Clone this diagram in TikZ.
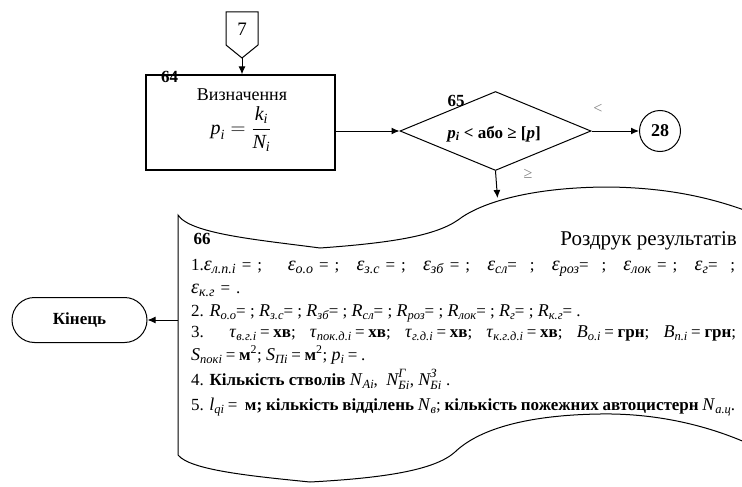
\documentclass[tikz,border=0pt]{standalone}
\usepackage{amsmath}
\usepackage{fontspec}
\setmainfont{Liberation Serif}
\usetikzlibrary{arrows.meta,shapes.geometric}
\newcommand{\myvs}[2]{{\fontsize{18}{20}\selectfont\textit{#1}}\raisebox{-3pt}{\fontsize{12.5}{13}\selectfont\textit{#2}}}
\newcommand{\myvsb}[2]{{\fontsize{20}{20}\selectfont\textit{#1}}\raisebox{-3pt}{\fontsize{14}{14}\selectfont\textit{#2}}}
\newcommand{\myvss}[3]{{\fontsize{18}{20}\selectfont$\textit{#1}^{\textit{#2}}_{\textit{#3}}$}}
\newcommand{\myeq}{\hspace{0.22em}=\hspace{0.22em}}
\newcommand{\myeqb}{\hspace{0.35em}=\hspace{0.35em}}
\definecolor{lblgray}{RGB}{128,128,128}
\tikzset{
  arr/.style={-{Latex[length=8pt,width=7pt]}, line width=1pt},
  outline/.style={draw, line width=1pt},
  numlbl/.style={font=\fontsize{17}{19}\selectfont\bfseries, inner sep=0pt},
  cmplbl/.style={font=\fontsize{16}{18}\selectfont, text=lblgray, inner sep=0pt},
  bodyline/.style={anchor=base west, inner sep=0pt, font=\fontsize{17}{19}\selectfont},
}
\begin{document}
\begin{tikzpicture}[x=1pt,y=-1pt]
\useasboundingbox (0,0) rectangle (742,487);
\clip (0,0) rectangle (742,487);
% off-page connector 7
\draw[outline] (226,12) -- (258,12) -- (258,45) -- (242,58) -- (226,45) -- cycle;
\coordinate (c7tip) at (242,58);
\node[inner sep=0pt, font=\fontsize{19}{21}\selectfont] (t7) at (242,29) {7};
% box 64
\node[outline, line width=1.3pt, minimum width=189pt, minimum height=95pt, inner sep=0pt] (b64) at (240.5,122.5) {};
\node[inner sep=0pt, font=\fontsize{18}{20}\selectfont] (b64t) at (242,95) {Визначення};
\node[inner sep=0pt, font=\fontsize{20}{22}\selectfont] (b64f) at (241,129) {$\textit{p}_{\textit{i}} = \dfrac{\textit{k}_{\textit{i}}}{\textit{N}_{\textit{i}}}$};
\node[numlbl] (l64) at (169.5,77) {64};
% decision 65
\node[diamond, outline, minimum width=191pt, minimum height=79pt, inner sep=0pt] (d65) at (495.5,131) {};
\node[inner sep=0pt, font=\fontsize{17}{19}\selectfont\bfseries] (d65t) at (494,134) {\textit{p}\textsubscript{\textit{i}} < або ≥ [\textit{p}]};
\node[numlbl] (l65) at (456,101) {65};
\node[cmplbl] (lt) at (598,109) {<};
\node[cmplbl] (ge) at (528,174) {≥};
% connector 28
\node[circle, outline, minimum size=41pt, inner sep=0pt, font=\fontsize{18}{20}\selectfont\bfseries] (c28) at (660,131) {28};
% end terminal
\node[outline, rounded corners=22.5pt, minimum width=135pt, minimum height=45pt, inner sep=0pt, font=\fontsize{17}{19}\selectfont\bfseries] (fin) at (79.5,320) {Кінець};
% document 66
\draw[outline]
  (760,216) .. controls (715,198) and (670,188) .. (610,187)
  .. controls (530,187) and (480,203) .. (458,220)
  .. controls (435,236) and (390,243) .. (320,248)
  .. controls (260,240) and (190,234) .. (178,215)
  -- (178,455)
  .. controls (190,470) and (250,476) .. (310,482)
  .. controls (385,478) and (435,470) .. (455,452)
  .. controls (480,428) and (530,415) .. (600,414)
  .. controls (660,413) and (715,427) .. (760,449);
\coordinate (doctop) at (497.5,198);
\coordinate (docleft) at (178,320);
\node[numlbl, anchor=base] (l66) at (202,244) {66};
\node[inner sep=0pt, anchor=base east, font=\fontsize{21}{23}\selectfont] (title) at (737,245) {Роздрук результатів};
\node[bodyline] (r1) at (191,270) {\makebox[544pt][s]{1.\myvsb{ε}{л.п.і}\myeqb{};\ \ \myvsb{ε}{о.о}\myeqb{}; \myvsb{ε}{з.с}\myeqb{}; \myvsb{ε}{зб}\myeqb{}; \myvsb{ε}{сл}=\ ; \myvsb{ε}{роз}=\ ; \myvsb{ε}{лок}\myeqb{}; \myvsb{ε}{г}=\ ;}};
\node[bodyline] (r2) at (191,293) {\myvsb{ε}{к.г}\myeqb{}.};
\node[bodyline] (r3) at (191,316) {2. \myvs{R}{о.о}= ; \myvs{R}{з.с}= ; \myvs{R}{зб}= ; \myvs{R}{сл}= ; \myvs{R}{роз}= ; \myvs{R}{лок}= ; \myvs{R}{г}= ; \myvs{R}{к.г}= .};
\node[bodyline] (r4) at (191,337) {\makebox[545pt][s]{3. \myvs{τ}{в.г.і}\myeq{}\textbf{хв}; \myvs{τ}{пок.д.і}\myeq{}\textbf{хв}; \myvs{τ}{г.д.і}\myeq{}\textbf{хв}; \myvs{τ}{к.г.д.і}\myeq{}\textbf{хв}; \myvs{B}{о.і}\myeq{}\textbf{грн}; \myvs{B}{п.і}\myeq{}\textbf{грн};}};
\node[bodyline] (r5) at (191,360) {\myvs{S}{покі}\myeq{}\textbf{м}\textsuperscript{2}; \myvs{S}{Пі}\myeq{}\textbf{м}\textsuperscript{2}; \myvs{p}{i}\myeq{}.};
\node[bodyline] (r6) at (191,385) {4. \textbf{Кількість стволів} \myvs{N}{Аі}, \ \myvss{N}{Г}{Бі}, \myvss{N}{З}{Бі} .};
\node[bodyline] (r7) at (191,410) {\makebox[544pt][s]{5. \myvs{l}{qi}\myeq{}\ \textbf{м; кількість відділень} \myvs{N}{в}; \textbf{кількість пожежних автоцистерн} \myvs{N}{а.ц}.}};
% connectors
\draw[arr] (c7tip) -- (c7tip |- b64.north);
\draw[arr] (b64.east |- d65.west) -- (d65.west);
\draw[arr] (d65.east) -- (c28.west);
\draw[arr] (d65.south) -- (doctop);
\draw[arr] (docleft) -- (fin.east);
\end{tikzpicture}
\end{document}
